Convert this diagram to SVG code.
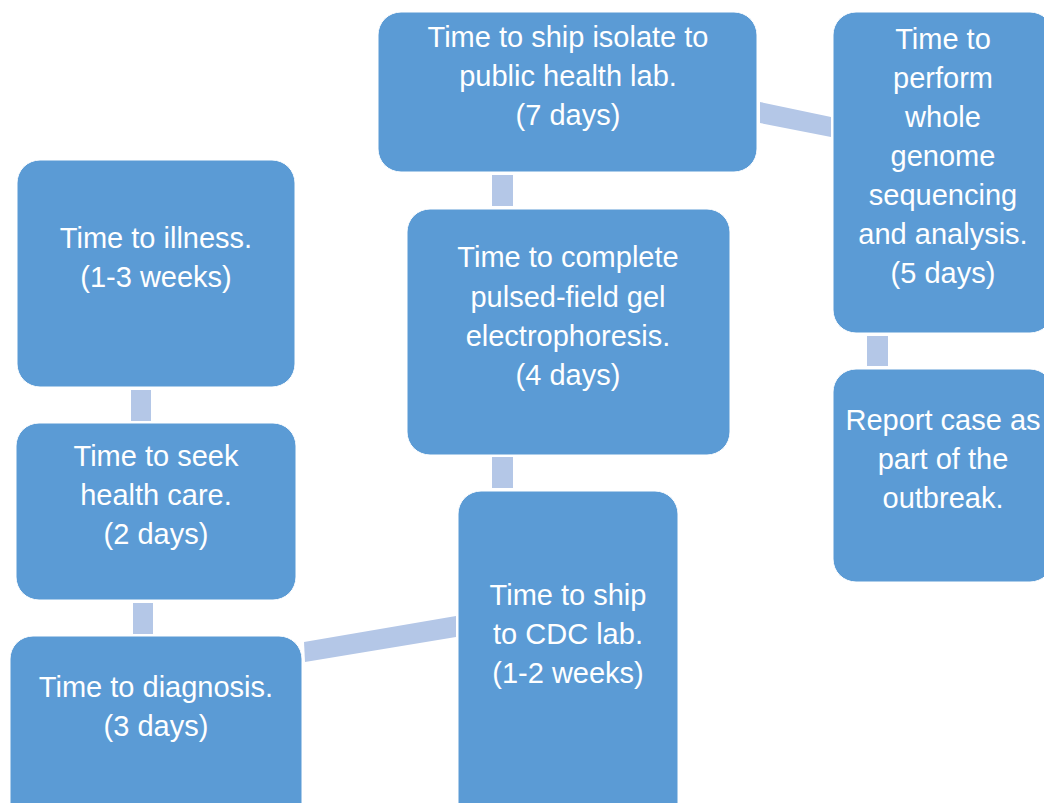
<svg xmlns="http://www.w3.org/2000/svg" width="1044" height="803" viewBox="0 0 1044 803">
  <style>
    .box { fill: #5B9BD5; stroke: #FFFFFF; stroke-width: 1; }
    .link { fill: #B4C7E7; stroke: none; }
    .lbl { font-family: "Liberation Sans", Arial, sans-serif; font-size: 29px; fill: #FFFFFF; text-anchor: middle; }
  </style>
  <rect width="1044" height="803" fill="#FFFFFF"/>

  <!-- connectors between consecutive steps -->
  <g id="connectors">
    <rect class="link" x="131" y="390" width="20" height="31"/>
    <rect class="link" x="133" y="603" width="20" height="31"/>
    <polygon class="link" points="304,642 456,616 456,637 305,662"/>
    <rect class="link" x="492" y="457" width="21" height="31"/>
    <rect class="link" x="492" y="175" width="21" height="31"/>
    <polygon class="link" points="760,102 831,117 831,137 760,123"/>
    <rect class="link" x="867" y="336" width="21" height="30"/>
  </g>

  <g id="illness">
    <rect class="box" x="17" y="160" width="278" height="227" rx="23"/>
    <text class="lbl" x="156" y="248">Time to illness.</text>
    <text class="lbl" x="156" y="287">(1-3 weeks)</text>
  </g>

  <g id="seek-care">
    <rect class="box" x="16" y="423" width="280" height="177" rx="23"/>
    <text class="lbl" x="156" y="466">Time to seek</text>
    <text class="lbl" x="156" y="505">health care.</text>
    <text class="lbl" x="156" y="544">(2 days)</text>
  </g>

  <g id="diagnosis">
    <rect class="box" x="10" y="636" width="292" height="200" rx="23"/>
    <text class="lbl" x="156" y="697">Time to diagnosis.</text>
    <text class="lbl" x="156" y="736">(3 days)</text>
  </g>

  <g id="ship-cdc">
    <rect class="box" x="458" y="491" width="220" height="340" rx="23"/>
    <text class="lbl" x="568" y="605">Time to ship</text>
    <text class="lbl" x="568" y="644">to CDC lab.</text>
    <text class="lbl" x="568" y="683">(1-2 weeks)</text>
  </g>

  <g id="pfge">
    <rect class="box" x="407" y="209" width="323" height="246" rx="23"/>
    <text class="lbl" x="568" y="267">Time to complete</text>
    <text class="lbl" x="568" y="307">pulsed-field gel</text>
    <text class="lbl" x="568" y="346">electrophoresis.</text>
    <text class="lbl" x="568" y="385">(4 days)</text>
  </g>

  <g id="ship-isolate">
    <rect class="box" x="378" y="12" width="379" height="160" rx="23"/>
    <text class="lbl" x="568" y="47">Time to ship isolate to</text>
    <text class="lbl" x="568" y="86">public health lab.</text>
    <text class="lbl" x="568" y="125">(7 days)</text>
  </g>

  <g id="wgs">
    <rect class="box" x="833" y="12" width="220" height="321" rx="23"/>
    <text class="lbl" x="943" y="49">Time to</text>
    <text class="lbl" x="943" y="88">perform</text>
    <text class="lbl" x="943" y="127">whole</text>
    <text class="lbl" x="943" y="166">genome</text>
    <text class="lbl" x="943" y="205">sequencing</text>
    <text class="lbl" x="943" y="244">and analysis.</text>
    <text class="lbl" x="943" y="283">(5 days)</text>
  </g>

  <g id="report">
    <rect class="box" x="833" y="369" width="220" height="213" rx="23"/>
    <text class="lbl" x="943" y="430">Report case as</text>
    <text class="lbl" x="943" y="469">part of the</text>
    <text class="lbl" x="943" y="508">outbreak.</text>
  </g>
</svg>
